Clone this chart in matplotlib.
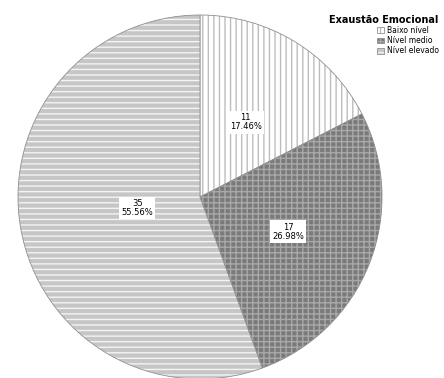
import matplotlib.pyplot as plt
import matplotlib as mpl
import numpy as np

categorias = ['Baixo nível', 'Nível medio', 'Nível elevado']
valores = [11, 17, 35]
percentuais = ['17.46%', '26.98%', '55.56%']

cores = ['#ffffff', '#7a7a7a', '#c6c6c6']
hachuras = ['|||', '+++', '---']
cores_hachura = ['#bdbdbd', '#a9a9a9', '#f4f4f4']

mpl.rcParams['hatch.linewidth'] = 1.0

fig = plt.figure(figsize=(4.44, 3.78), dpi=100)
ax = fig.add_axes([18 / 444, -1 / 378, 364 / 444, 364 / 378])

total = sum(valores)
fatias, _ = ax.pie(valores, startangle=90, counterclock=False, colors=cores,
                   wedgeprops=dict(edgecolor='#909090', linewidth=0.6))
for f, h, c in zip(fatias, hachuras, cores_hachura):
    f.set_hatch(h)
    f._hatch_color = mpl.colors.to_rgba(c)

# posições dos rótulos (fração do raio)
raios = [0.48, 0.52, 0.35]
inicio = 90.0
for v, p, r in zip(valores, percentuais, raios):
    ang = inicio - v / total * 360 / 2
    inicio -= v / total * 360
    x = r * np.cos(np.radians(ang))
    y = r * np.sin(np.radians(ang))
    ax.text(x, y, f'{v}\n{p}', ha='center', va='center', fontsize=6,
            linespacing=1.0,
            bbox=dict(facecolor='white', edgecolor='none', pad=1.5))

ax.set_xlim(-1, 1)
ax.set_ylim(-1, 1)
ax.set_aspect('equal')
ax.axis('off')

leg = fig.legend(fatias, categorias, title='Exaustão Emocional',
                 loc='upper right', bbox_to_anchor=(1.0, 0.975),
                 frameon=False, fontsize=5.5, title_fontsize=7,
                 handlelength=0.9, handleheight=0.8, handletextpad=0.4,
                 labelspacing=0.15, borderpad=0.2)
leg.get_title().set_fontweight('bold')
leg._legend_box.align = 'right'

fig.savefig('out.png', dpi=100)
